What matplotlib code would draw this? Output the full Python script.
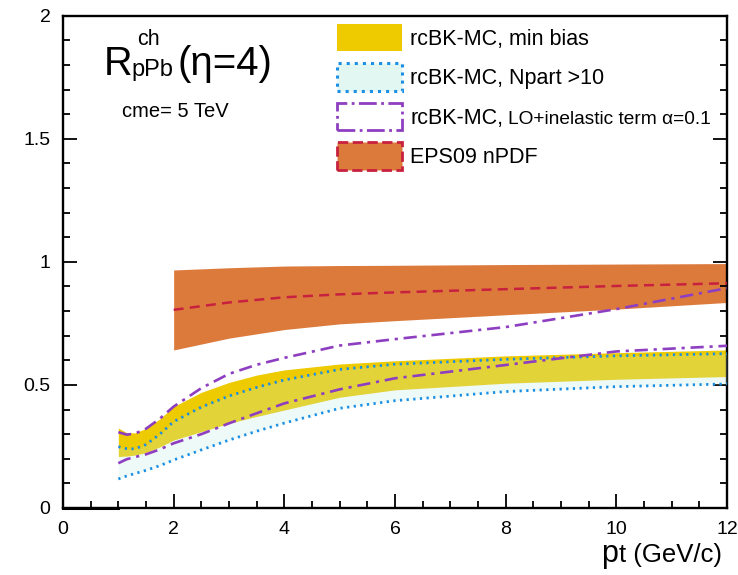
import matplotlib
matplotlib.use("Agg")
import matplotlib.pyplot as plt
from matplotlib.patches import Patch
from matplotlib.ticker import MultipleLocator, FuncFormatter

plt.rcParams["font.family"] = ["Liberation Sans", "DejaVu Sans"]

# rcBK-MC curves, sampled in pt (GeV/c)
pt = [1, 1.15, 1.3, 1.5, 1.75, 2, 2.5, 3, 3.5, 4, 5, 6, 8, 10, 12]
minbias_hi = [0.325, 0.306, 0.305, 0.323, 0.362, 0.412, 0.47, 0.51, 0.54, 0.561, 0.585, 0.598, 0.618, 0.631, 0.642]
minbias_lo = [0.209, 0.211, 0.215, 0.225, 0.248, 0.276, 0.31, 0.344, 0.372, 0.398, 0.45, 0.48, 0.507, 0.523, 0.534]
npart_hi = [0.249, 0.241, 0.24, 0.258, 0.30, 0.351, 0.41, 0.455, 0.49, 0.52, 0.563, 0.584, 0.604, 0.618, 0.627]
npart_lo = [0.118, 0.13, 0.14, 0.153, 0.172, 0.195, 0.236, 0.276, 0.312, 0.345, 0.405, 0.436, 0.473, 0.493, 0.504]
inel_hi = [0.308, 0.298, 0.302, 0.322, 0.363, 0.412, 0.487, 0.545, 0.582, 0.61, 0.66, 0.686, 0.735, 0.808, 0.893]
inel_lo = [0.182, 0.198, 0.207, 0.218, 0.238, 0.263, 0.30, 0.344, 0.385, 0.425, 0.482, 0.527, 0.581, 0.636, 0.659]

# EPS09 nPDF band
pt_eps = [2, 3, 4, 5, 6, 8, 10, 12]
eps_hi = [0.967, 0.976, 0.983, 0.985, 0.986, 0.989, 0.991, 0.993]
eps_lo = [0.642, 0.69, 0.725, 0.748, 0.761, 0.785, 0.808, 0.835]
eps_mid = [0.805, 0.835, 0.856, 0.868, 0.876, 0.889, 0.902, 0.913]

# empty range below pt = 1
zero_x = [0, 1]
zero_y = [0, 0]

GOLD = "#EECA00"
ORANGE = "#DC7A3C"
CRIMSON = "#C8203F"
BLUE = "#1A8FE3"
PURPLE = "#8E3EC0"
DOT = (0, (0.8, 1.6))
DASHDOT = (0, (5, 2.2, 1.2, 2.2))
DASH = (0, (4, 2.5))

W, H = 738, 575
fig = plt.figure(figsize=(W / 100, H / 100), dpi=100)
ax = fig.add_axes([63 / W, 1 - 508 / H, 664 / W, 492.3 / H])


def px(x, y):
    return x / W, 1 - y / H


# bands
ax.fill_between(pt_eps, eps_lo, eps_hi, color=ORANGE, lw=0, zorder=1)
ax.plot(pt_eps, eps_mid, color=CRIMSON, lw=1.8, ls=DASH, zorder=4)
ax.fill_between(pt, minbias_lo, minbias_hi, color=GOLD, lw=0, zorder=2)
ax.fill_between(pt, npart_lo, npart_hi, color="#BFEEE3", alpha=0.25, lw=0, zorder=3)

ax.plot(pt, npart_hi, color=BLUE, lw=2.0, ls=DOT, zorder=5)
ax.plot(pt, npart_lo, color=BLUE, lw=2.0, ls=DOT, zorder=5)
ax.plot(pt, inel_hi, color=PURPLE, lw=1.9, ls=DASHDOT, zorder=6)
ax.plot(pt, inel_lo, color=PURPLE, lw=1.9, ls=DASHDOT, zorder=6)
ax.plot(zero_x, zero_y, color="black", lw=2.2, clip_on=False, zorder=7)

ax.set_xlim(0, 12)
ax.set_ylim(0, 2)
ax.xaxis.set_major_locator(MultipleLocator(2))
ax.xaxis.set_minor_locator(MultipleLocator(0.5))
ax.yaxis.set_major_locator(MultipleLocator(0.5))
ax.yaxis.set_minor_locator(MultipleLocator(0.1))
ax.yaxis.set_major_formatter(FuncFormatter(lambda v, _: f"{v:g}"))
ax.tick_params(which="both", direction="in", right=True, top=False, width=1.3,
               labelsize=14)
ax.tick_params(which="major", length=10)
ax.tick_params(which="minor", length=5)
ax.tick_params(axis="x", pad=9)
ax.tick_params(axis="y", pad=9)
for sp in ax.spines.values():
    sp.set_linewidth(1.7)

# legend
handles = [
    Patch(facecolor=GOLD, edgecolor=GOLD, lw=0),
    Patch(facecolor="#E2F7F2", edgecolor=BLUE, ls=":", lw=2.2),
    Patch(facecolor="white", edgecolor=PURPLE, ls="-.", lw=2.0),
    Patch(facecolor=ORANGE, edgecolor=CRIMSON, ls="--", lw=2.0),
]
labels = ["rcBK-MC, min bias", "rcBK-MC, Npart >10", "rcBK-MC,", "EPS09 nPDF"]
leg = ax.legend(handles, labels, loc="upper left",
                bbox_to_anchor=((337 - 63) / 664, (508 - 24) / 492.3),
                frameon=False, fontsize=15.5, handlelength=3.02, handleheight=1.58,
                labelspacing=0.56, handletextpad=0.38, borderpad=0, borderaxespad=0)

# titles
fig.text(*px(104, 75), "R", fontsize=28.5, va="baseline")
fig.text(*px(137, 45), "ch", fontsize=15.5, va="baseline")
fig.text(*px(131, 76), "pPb", fontsize=17, va="baseline")
fig.text(*px(177, 75), "(η=4)", fontsize=29, va="baseline")
fig.text(*px(122, 117), "cme= 5 TeV", fontsize=14.5, va="baseline")

# x title
fig.text(*px(722, 562), "t (GeV/c)", fontsize=18.5, va="baseline", ha="right")
fig.canvas.draw()
r = fig.canvas.get_renderer()
t_ext = fig.texts[-1].get_window_extent(r)
fig.text(t_ext.x0 / W - 0.002, 1 - 562 / H, "p", fontsize=22, va="baseline", ha="right")

# smaller tail of the third legend label
lt = leg.get_texts()[2].get_window_extent(r)
fig.text((lt.x1 + 5) / W, lt.y0 / H + 0.001, "LO+inelastic term α=0.1",
         fontsize=13.8, va="bottom")

fig.savefig("out.png", dpi=100)
